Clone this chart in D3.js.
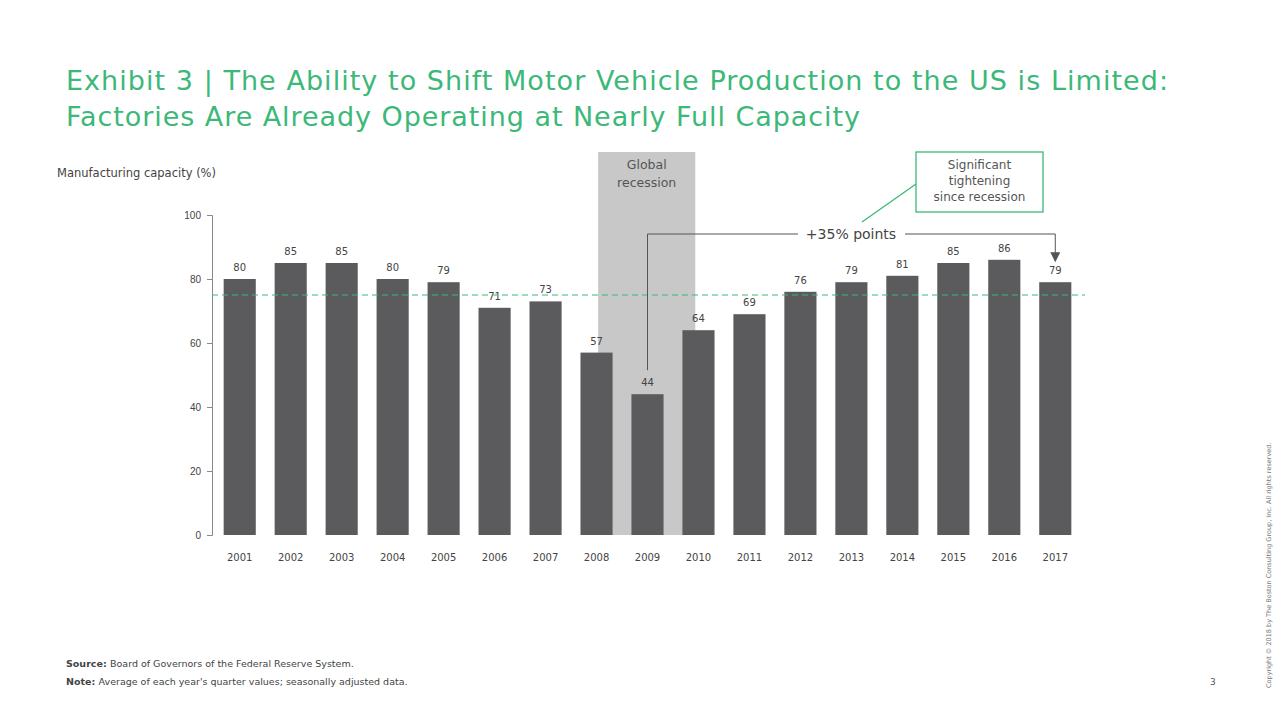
<!DOCTYPE html>
<html><head><meta charset="utf-8">
<script src="https://cdn.jsdelivr.net/npm/d3@7"></script>
<style>body{margin:0;background:#fff}svg{font-family:"DejaVu Sans",sans-serif}</style>
</head><body><svg id="c" width="1280" height="721"></svg>
<script>
// data
var years = ["2001","2002","2003","2004","2005","2006","2007","2008","2009","2010","2011","2012","2013","2014","2015","2016","2017"];
var capacity = [80,85,85,80,79,71,73,57,44,64,69,76,79,81,85,86,79];
var yTicks = [0,20,40,60,80,100];
var refLine = 75;

var green = "#3cb878";
var svg = d3.select("#c");

// title
svg.append("text").attr("x",66).attr("y",90).attr("fill",green).attr("font-size",27)
  .attr("textLength",1102).attr("lengthAdjust","spacing")
  .text("Exhibit 3 | The Ability to Shift Motor Vehicle Production to the US is Limited:");
svg.append("text").attr("x",66).attr("y",126).attr("fill",green).attr("font-size",27)
  .attr("textLength",794).attr("lengthAdjust","spacing")
  .text("Factories Are Already Operating at Nearly Full Capacity");
svg.append("text").attr("x",57).attr("y",177).attr("fill","#444").attr("font-size",11.5)
  .text("Manufacturing capacity (%)");

var x = d3.scaleBand().domain(years).range([215,1080]).paddingInner(0.37).paddingOuter(0.17);
var y = d3.scaleLinear().domain([0,100]).range([535,215]);

// recession shade, from middle of 2008 to middle of 2010
var sx0 = x("2008")+x.bandwidth()*0.55, sx1 = x("2010")+x.bandwidth()*0.4;
svg.append("rect").attr("x",sx0).attr("y",152).attr("width",sx1-sx0).attr("height",535-152).attr("fill","#c8c8c8");
svg.append("text").attr("x",(sx0+sx1)/2).attr("y",169).attr("text-anchor","middle").attr("fill","#555").attr("font-size",12.5).text("Global");
svg.append("text").attr("x",(sx0+sx1)/2).attr("y",187).attr("text-anchor","middle").attr("fill","#555").attr("font-size",12.5).text("recession");

// y axis
var ax = svg.append("g").attr("transform","translate(212,0)")
  .call(d3.axisLeft(y).tickValues(yTicks).tickSize(5).tickPadding(6));
ax.select(".domain").attr("stroke","#888");
ax.selectAll("line").attr("stroke","#888");
ax.selectAll("text").attr("font-size",10).attr("fill","#444");

// bars
svg.selectAll(".bar").data(capacity).join("rect")
  .attr("x",(d,i)=>x(years[i])).attr("y",d=>y(d))
  .attr("width",x.bandwidth()).attr("height",d=>y(0)-y(d)).attr("fill","#5b5b5d");
svg.selectAll(".lbl").data(capacity).join("text")
  .attr("x",(d,i)=>x(years[i])+x.bandwidth()/2).attr("y",d=>y(d)-8)
  .attr("text-anchor","middle").attr("font-size",10).attr("fill","#444").text(d=>d);
svg.selectAll(".yr").data(years).join("text")
  .attr("x",d=>x(d)+x.bandwidth()/2).attr("y",561)
  .attr("text-anchor","middle").attr("font-size",10).attr("fill","#444").text(d=>d);

// reference line
svg.append("line").attr("x1",212).attr("x2",1085).attr("y1",y(refLine)).attr("y2",y(refLine))
  .attr("stroke",green).attr("stroke-dasharray","6,4").attr("stroke-width",1.2);

// +35% bracket
var bx0 = x("2009")+x.bandwidth()/2, bx1 = x("2017")+x.bandwidth()/2, by = 234;
svg.append("path").attr("d","M"+bx0+","+(y(44)-24)+"V"+by+"H798").attr("fill","none").attr("stroke","#555");
svg.append("path").attr("d","M905,"+by+"H"+bx1+"V"+(y(79)-28)).attr("fill","none").attr("stroke","#555");
svg.append("path").attr("d","M"+(bx1-5)+","+(y(79)-30)+"L"+(bx1+5)+","+(y(79)-30)+"L"+bx1+","+(y(79)-20)+"Z").attr("fill","#555");
svg.append("text").attr("x",851).attr("y",239).attr("text-anchor","middle").attr("font-size",14).attr("fill","#444").text("+35% points");

// callout box
svg.append("line").attr("x1",862).attr("y1",222).attr("x2",916).attr("y2",184).attr("stroke",green).attr("stroke-width",1.3);
svg.append("rect").attr("x",916).attr("y",152).attr("width",127).attr("height",60).attr("fill","#fff").attr("stroke",green).attr("stroke-width",1.3);
["Significant","tightening","since recession"].forEach(function(t,i){
  svg.append("text").attr("x",979.5).attr("y",169+i*16).attr("text-anchor","middle").attr("font-size",12).attr("fill","#555").text(t);
});

// footer
var f1 = svg.append("text").attr("x",66).attr("y",667).attr("font-size",9.5).attr("fill","#444");
f1.append("tspan").attr("font-weight","bold").text("Source: ");
f1.append("tspan").text("Board of Governors of the Federal Reserve System.");
var f2 = svg.append("text").attr("x",66).attr("y",685).attr("font-size",9.5).attr("fill","#444");
f2.append("tspan").attr("font-weight","bold").text("Note: ");
f2.append("tspan").text("Average of each year's quarter values; seasonally adjusted data.");
svg.append("text").attr("x",1210).attr("y",685).attr("font-size",9).attr("fill","#555").text("3");
svg.append("text").attr("transform","translate(1271,688) rotate(-90)").attr("font-size",6.5).attr("fill","#777")
  .text("Copyright © 2018 by The Boston Consulting Group, Inc. All rights reserved.");
</script></body></html>
